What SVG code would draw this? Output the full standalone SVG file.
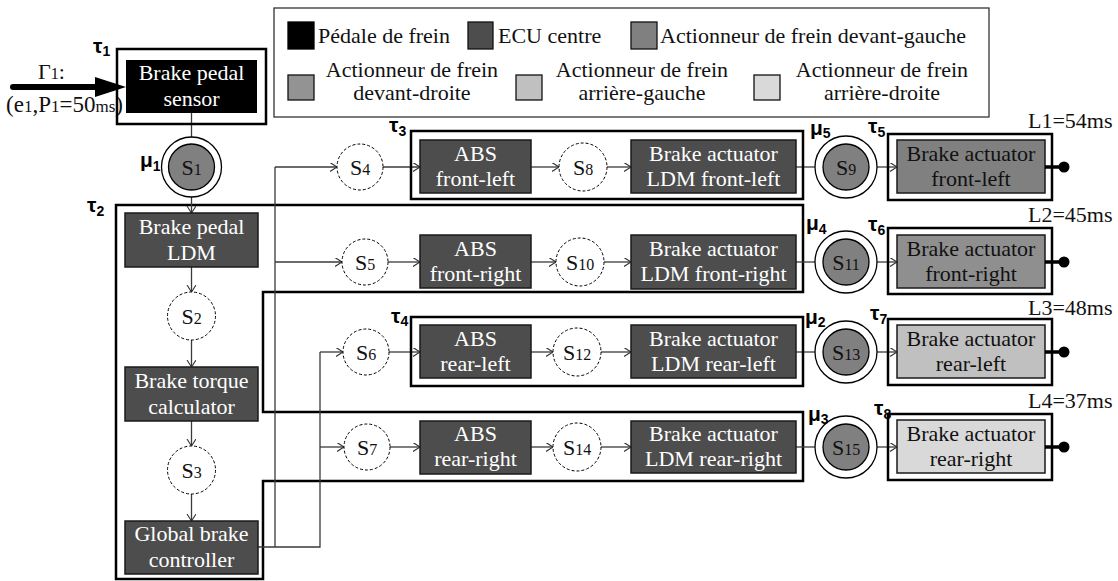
<svg xmlns="http://www.w3.org/2000/svg" width="1118" height="581" viewBox="0 0 1118 581">
<defs>
<marker id="arr" markerUnits="userSpaceOnUse" markerWidth="10" markerHeight="10" refX="7" refY="4.5" orient="auto">
<path d="M0,0 L7,4.5 L0,9" fill="none" stroke="#333" stroke-width="1.1"/>
</marker>
<style>
.t{font-family:"Liberation Serif","Times New Roman",serif;font-size:22px;fill:#111}
.w{fill:#fff}
.c{text-anchor:middle}
.sm{font-size:16px}
.g{font-family:"Liberation Sans",Arial,sans-serif;font-weight:bold;font-size:21px;fill:#000}
.gs{font-size:14px}
.ecu{fill:#4d4d4d;stroke:#1a1a1a;stroke-width:1.5}
.tau{fill:none;stroke:#000;stroke-width:2.5}
.conn{fill:none;stroke:#3a3a3a;stroke-width:1.3}
.ds{fill:#fff;stroke:#000;stroke-width:1;stroke-dasharray:3 2}
.mo{fill:#fff;stroke:#000;stroke-width:1.3}
.mi{fill:#808080;stroke:#000;stroke-width:1.3}
.act{stroke:#1a1a1a;stroke-width:1.5}
.out{stroke:#000;stroke-width:3.5}
</style>
</defs>
<rect width="1118" height="581" fill="#fff"/>

<g id="legend">
<rect x="274" y="8" width="715" height="109" fill="#fff" stroke="#333" stroke-width="1.3"/>
<rect x="288" y="22" width="26" height="27" fill="#000" stroke="#000" stroke-width="1.3"/>
<text class="t" x="318" y="43">Pédale de frein</text>
<rect x="468" y="22" width="25" height="27" fill="#4d4d4d" stroke="#111" stroke-width="1.3"/>
<text class="t" x="498" y="43">ECU centre</text>
<rect x="631" y="22" width="26" height="27" fill="#808080" stroke="#111" stroke-width="1.3"/>
<text class="t" x="660" y="43">Actionneur de frein devant-gauche</text>
<rect x="288" y="75" width="26" height="25" fill="#939393" stroke="#111" stroke-width="1.3"/>
<text class="t c" x="412" y="77">Actionneur de frein</text>
<text class="t c" x="412" y="100">devant-droite</text>
<rect x="516" y="75" width="26" height="25" fill="#c0c0c0" stroke="#111" stroke-width="1.3"/>
<text class="t c" x="642" y="77">Actionneur de frein</text>
<text class="t c" x="642" y="100">arrière-gauche</text>
<rect x="754" y="75" width="26" height="25" fill="#d9d9d9" stroke="#111" stroke-width="1.3"/>
<text class="t c" x="882" y="77">Actionneur de frein</text>
<text class="t c" x="882" y="100">arrière-droite</text>
</g>

<g id="tau2">
<path class="tau" d="M116,205 H803 V292 H263 V412 H803 V481 H263 V579 H116 Z"/>
<text class="g" x="87" y="212">τ<tspan class="gs" dy="4">2</tspan></text>
</g>

<g id="connectors">
<line x1="13" y1="87" x2="97" y2="87" stroke="#000" stroke-width="6" stroke-linecap="round"/>
<polygon points="95,77 126,87 95,97" fill="#000"/>
<path class="conn" d="M191.5,113 V144" marker-end="url(#arr)"/>
<path class="conn" d="M191.5,190 V213" marker-end="url(#arr)"/>
<path class="conn" d="M191.5,267 V292" marker-end="url(#arr)"/>
<path class="conn" d="M191.5,340 V367" marker-end="url(#arr)"/>
<path class="conn" d="M191.5,421 V446" marker-end="url(#arr)"/>
<path class="conn" d="M191.5,494 V521" marker-end="url(#arr)"/>
<path class="conn" d="M258,547 H320 V352 M275,547 V167"/>
<path class="conn" d="M275,167 H337" marker-end="url(#arr)"/>
<path class="conn" d="M275,262 H342" marker-end="url(#arr)"/>
<path class="conn" d="M320,352 H343" marker-end="url(#arr)"/>
<path class="conn" d="M320,447 H344" marker-end="url(#arr)"/>
<path class="conn" d="M383,167 H420" marker-end="url(#arr)"/>
<path class="conn" d="M388,262 H420" marker-end="url(#arr)"/>
<path class="conn" d="M389,352 H420" marker-end="url(#arr)"/>
<path class="conn" d="M390,447 H420" marker-end="url(#arr)"/>
<path class="conn" d="M531,167 H559" marker-end="url(#arr)"/>
<path class="conn" d="M531,262 H556" marker-end="url(#arr)"/>
<path class="conn" d="M531,352 H553" marker-end="url(#arr)"/>
<path class="conn" d="M531,447 H553" marker-end="url(#arr)"/>
<path class="conn" d="M607,167 H631" marker-end="url(#arr)"/>
<path class="conn" d="M604,262 H631" marker-end="url(#arr)"/>
<path class="conn" d="M601,352 H631" marker-end="url(#arr)"/>
<path class="conn" d="M601,447 H631" marker-end="url(#arr)"/>
<path class="conn" d="M796,167 H823" marker-end="url(#arr)"/>
<path class="conn" d="M796,262 H823" marker-end="url(#arr)"/>
<path class="conn" d="M796,352 H823" marker-end="url(#arr)"/>
<path class="conn" d="M796,447 H823" marker-end="url(#arr)"/>
<path class="conn" d="M869,167 H897" marker-end="url(#arr)"/>
<path class="conn" d="M869,262 H897" marker-end="url(#arr)"/>
<path class="conn" d="M869,352 H897" marker-end="url(#arr)"/>
<path class="conn" d="M869,447 H897" marker-end="url(#arr)"/>
</g>

<g id="gamma1">
<text class="t" x="38" y="79">Γ<tspan class="sm">1</tspan>:</text>
<text class="t" x="6" y="112" style="font-size:23px">(e<tspan style="font-size:17px">1</tspan>,P<tspan style="font-size:17px">1</tspan>=50<tspan style="font-size:17px">ms</tspan>)</text>
</g>

<g id="brake-pedal-sensor">
<rect class="tau" x="117" y="49" width="149" height="75"/>
<rect x="126" y="60" width="131" height="53" fill="#000"/>
<text class="t w c" x="191.5" y="80">Brake pedal</text>
<text class="t w c" x="191.5" y="106">sensor</text>
<text class="g" x="93" y="53">τ<tspan class="gs" dy="3">1</tspan></text>
</g>

<g id="S1">
<circle class="mo" cx="191.5" cy="167" r="30"/>
<circle class="mi" cx="191.5" cy="167" r="23"/>
<text class="t c" x="191.5" y="175">S<tspan class="sm">1</tspan></text>
<text class="g" x="140" y="167">μ<tspan class="gs" dy="4">1</tspan></text>
</g>

<g id="brake-pedal-ldm">
<rect class="ecu" x="125" y="213" width="133" height="54"/>
<text class="t w c" x="191.5" y="234">Brake pedal</text>
<text class="t w c" x="191.5" y="260">LDM</text>
</g>
<g id="S2">
<circle class="ds" cx="191.5" cy="316" r="24"/>
<text class="t c" x="191.5" y="324">S<tspan class="sm">2</tspan></text>
</g>
<g id="brake-torque-calculator">
<rect class="ecu" x="125" y="367" width="133" height="54"/>
<text class="t w c" x="191.5" y="388">Brake torque</text>
<text class="t w c" x="191.5" y="414">calculator</text>
</g>
<g id="S3">
<circle class="ds" cx="191.5" cy="470" r="24"/>
<text class="t c" x="191.5" y="478">S<tspan class="sm">3</tspan></text>
</g>
<g id="global-brake-controller">
<rect class="ecu" x="125" y="521" width="133" height="53"/>
<text class="t w c" x="191.5" y="541">Global brake</text>
<text class="t w c" x="191.5" y="567">controller</text>
</g>

<!-- Row 1 -->
<g id="S4"><circle class="ds" cx="360" cy="167" r="23"/><text class="t c" x="360" y="175">S<tspan class="sm">4</tspan></text></g>
<g id="tau3">
<rect class="tau" x="411" y="131" width="392" height="68"/>
<text class="g" x="389" y="132">τ<tspan class="gs" dy="4">3</tspan></text>
</g>
<g id="abs-front-left"><rect class="ecu" x="420" y="140" width="111" height="53"/>
<text class="t w c" x="475.5" y="161">ABS</text><text class="t w c" x="475.5" y="186">front-left</text></g>
<g id="S8"><circle class="ds" cx="583" cy="167" r="24"/><text class="t c" x="583" y="175">S<tspan class="sm">8</tspan></text></g>
<g id="ldm-front-left"><rect class="ecu" x="631" y="140" width="165" height="53"/>
<text class="t w c" x="713.5" y="161">Brake actuator</text><text class="t w c" x="713.5" y="186">LDM front-left</text></g>
<g id="S9"><circle class="mo" cx="846" cy="167" r="31"/><circle class="mi" cx="846" cy="167" r="23"/>
<text class="t c" x="846" y="175">S<tspan class="sm">9</tspan></text>
<text class="g" x="810" y="135">μ<tspan class="gs" dy="3">5</tspan></text></g>
<g id="actuator-front-left"><rect class="tau" x="888" y="134" width="164" height="66"/>
<rect class="act" x="897" y="140" width="148" height="53" fill="#808080"/>
<text class="t c" x="971" y="161">Brake actuator</text><text class="t c" x="971" y="186">front-left</text>
<text class="g" x="868" y="133">τ<tspan class="gs" dy="4">5</tspan></text>
<line class="out" x1="1045" y1="167" x2="1063" y2="167"/><circle cx="1064" cy="167" r="5.5" fill="#000"/>
<text class="t" x="1028" y="128">L1=54ms</text></g>

<!-- Row 2 -->
<g id="S5"><circle class="ds" cx="365" cy="262" r="23"/><text class="t c" x="365" y="270">S<tspan class="sm">5</tspan></text></g>
<g id="abs-front-right"><rect class="ecu" x="420" y="235" width="111" height="53"/>
<text class="t w c" x="475.5" y="256">ABS</text><text class="t w c" x="475.5" y="281">front-right</text></g>
<g id="S10"><circle class="ds" cx="580" cy="262" r="24"/><text class="t c" x="580" y="270">S<tspan class="sm">10</tspan></text></g>
<g id="ldm-front-right"><rect class="ecu" x="631" y="235" width="165" height="54"/>
<text class="t w c" x="713.5" y="256">Brake actuator</text><text class="t w c" x="713.5" y="281">LDM front-right</text></g>
<g id="S11"><circle class="mo" cx="846" cy="262" r="31"/><circle class="mi" cx="846" cy="262" r="23"/>
<text class="t c" x="846" y="270">S<tspan class="sm">11</tspan></text>
<text class="g" x="806" y="230">μ<tspan class="gs" dy="4">4</tspan></text></g>
<g id="actuator-front-right"><rect class="tau" x="888" y="228" width="164" height="66"/>
<rect class="act" x="897" y="235" width="148" height="53" fill="#8f8f8f"/>
<text class="t c" x="971" y="256">Brake actuator</text><text class="t c" x="971" y="281">front-right</text>
<text class="g" x="868" y="231">τ<tspan class="gs" dy="4">6</tspan></text>
<line class="out" x1="1045" y1="262" x2="1063" y2="262"/><circle cx="1064" cy="262" r="5.5" fill="#000"/>
<text class="t" x="1028" y="222">L2=45ms</text></g>

<!-- Row 3 -->
<g id="S6"><circle class="ds" cx="366" cy="352" r="23"/><text class="t c" x="366" y="360">S<tspan class="sm">6</tspan></text></g>
<g id="tau4">
<rect class="tau" x="411" y="317" width="392" height="69"/>
<text class="g" x="391" y="323">τ<tspan class="gs" dy="3">4</tspan></text>
</g>
<g id="abs-rear-left"><rect class="ecu" x="420" y="325" width="111" height="53"/>
<text class="t w c" x="475.5" y="346">ABS</text><text class="t w c" x="475.5" y="371">rear-left</text></g>
<g id="S12"><circle class="ds" cx="577" cy="352" r="24"/><text class="t c" x="577" y="360">S<tspan class="sm">12</tspan></text></g>
<g id="ldm-rear-left"><rect class="ecu" x="631" y="325" width="165" height="53"/>
<text class="t w c" x="713.5" y="346">Brake actuator</text><text class="t w c" x="713.5" y="371">LDM rear-left</text></g>
<g id="S13"><circle class="mo" cx="846" cy="352" r="31"/><circle class="mi" cx="846" cy="352" r="23"/>
<text class="t c" x="846" y="360">S<tspan class="sm">13</tspan></text>
<text class="g" x="805" y="324">μ<tspan class="gs" dy="3">2</tspan></text></g>
<g id="actuator-rear-left"><rect class="tau" x="888" y="319" width="164" height="66"/>
<rect class="act" x="897" y="325" width="148" height="53" fill="#c0c0c0"/>
<text class="t c" x="971" y="346">Brake actuator</text><text class="t c" x="971" y="371">rear-left</text>
<text class="g" x="870" y="320">τ<tspan class="gs" dy="4">7</tspan></text>
<line class="out" x1="1045" y1="352" x2="1063" y2="352"/><circle cx="1064" cy="352" r="5.5" fill="#000"/>
<text class="t" x="1028" y="315">L3=48ms</text></g>

<!-- Row 4 -->
<g id="S7"><circle class="ds" cx="367" cy="447" r="23"/><text class="t c" x="367" y="455">S<tspan class="sm">7</tspan></text></g>
<g id="abs-rear-right"><rect class="ecu" x="420" y="421" width="111" height="53"/>
<text class="t w c" x="475.5" y="441">ABS</text><text class="t w c" x="475.5" y="466">rear-right</text></g>
<g id="S14"><circle class="ds" cx="577" cy="447" r="24"/><text class="t c" x="577" y="455">S<tspan class="sm">14</tspan></text></g>
<g id="ldm-rear-right"><rect class="ecu" x="631" y="421" width="165" height="52"/>
<text class="t w c" x="713.5" y="441">Brake actuator</text><text class="t w c" x="713.5" y="466">LDM rear-right</text></g>
<g id="S15"><circle class="mo" cx="846" cy="447" r="31"/><circle class="mi" cx="846" cy="447" r="23"/>
<text class="t c" x="846" y="455">S<tspan class="sm">15</tspan></text>
<text class="g" x="808" y="421">μ<tspan class="gs" dy="3">3</tspan></text></g>
<g id="actuator-rear-right"><rect class="tau" x="888" y="414" width="164" height="66"/>
<rect class="act" x="897" y="420" width="148" height="53" fill="#d9d9d9"/>
<text class="t c" x="971" y="441">Brake actuator</text><text class="t c" x="971" y="466">rear-right</text>
<text class="g" x="874" y="415">τ<tspan class="gs" dy="4">8</tspan></text>
<line class="out" x1="1045" y1="447" x2="1063" y2="447"/><circle cx="1064" cy="447" r="5.5" fill="#000"/>
<text class="t" x="1028" y="408">L4=37ms</text></g>
</svg>
